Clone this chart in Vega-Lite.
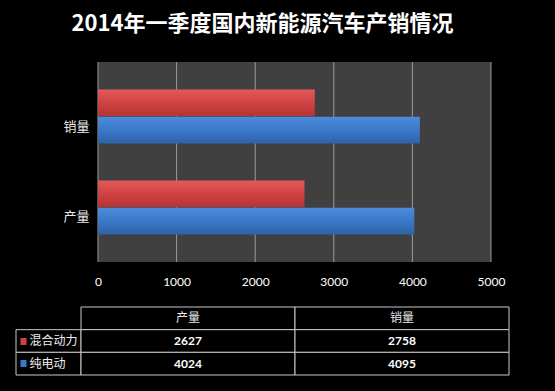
{
  "$schema": "https://vega.github.io/schema/vega-lite/v6.json",
  "background": "black",
  "padding": {"left": 15, "right": 47, "top": 12, "bottom": 18},
  "title": {
    "text": "2014年一季度国内新能源汽车产销情况",
    "color": "white",
    "fontSize": 22,
    "font": "Noto Sans CJK SC",
    "fontWeight": "bold",
    "anchor": "middle",
    "offset": 26
  },
  "config": {"view": {"stroke": null}},
  "datasets": {
    "sales": [
      {"category": "产量", "series": "混合动力", "value": 2627},
      {"category": "销量", "series": "混合动力", "value": 2758},
      {"category": "产量", "series": "纯电动", "value": 4024},
      {"category": "销量", "series": "纯电动", "value": 4095}
    ]
  },
  "spacing": 45,
  "bounds": "flush",
  "resolve": {"scale": {"x": "independent", "y": "independent"}},
  "vconcat": [
    {
      "width": 493,
      "height": 200,
      "data": {"name": "sales"},
      "encoding": {
        "x": {
          "type": "quantitative",
          "scale": {"domain": [-1043, 5229], "nice": false, "zero": false},
          "axis": {
            "values": [0, 1000, 2000, 3000, 4000, 5000],
            "format": "d",
            "grid": false,
            "domain": false,
            "ticks": false,
            "labelColor": "white",
            "labelFontSize": 12,
            "labelFont": "Lato",
            "labelPadding": 14,
            "title": null
          }
        }
      },
      "layer": [
        {
          "data": {"values": [{}]},
          "mark": {"type": "rect", "color": "#404040"},
          "encoding": {
            "x": {"datum": 0, "type": "quantitative"},
            "x2": {"datum": 5000}
          }
        },
        {
          "data": {"values": [{"g": 0}, {"g": 1000}, {"g": 2000}, {"g": 3000}, {"g": 4000}, {"g": 5000}]},
          "mark": {"type": "rule", "color": "#9a9a9a", "strokeWidth": 1},
          "encoding": {"x": {"field": "g", "type": "quantitative"}}
        },
        {
          "transform": [{"filter": "datum.series === '混合动力'"}],
          "mark": {
            "type": "bar",
            "color": {
              "gradient": "linear", "x1": 0, "y1": 0, "x2": 0, "y2": 1,
              "stops": [
                {"offset": 0, "color": "#e35a5a"},
                {"offset": 0.5, "color": "#d04242"},
                {"offset": 1, "color": "#b43434"}
              ]
            }
          },
          "encoding": {
            "x": {"field": "value", "type": "quantitative"},
            "y": {
              "field": "category", "type": "nominal",
              "scale": {"domain": ["销量", "产量"], "paddingInner": 0.407, "paddingOuter": 0.3025},
              "axis": {
                "offset": -80, "labelPadding": 7, "domain": false, "ticks": false,
                "labelColor": "#e8e8e8", "labelFontSize": 13, "labelFont": "Noto Sans CJK SC",
                "labelOffset": 10, "title": null
              }
            },
            "yOffset": {
              "field": "series", "type": "nominal",
              "scale": {"domain": ["混合动力", "纯电动"], "paddingInner": 0.02}
            }
          }
        },
        {
          "transform": [{"filter": "datum.series === '纯电动'"}],
          "mark": {
            "type": "bar",
            "color": {
              "gradient": "linear", "x1": 0, "y1": 0, "x2": 0, "y2": 1,
              "stops": [
                {"offset": 0, "color": "#4b8ddb"},
                {"offset": 0.5, "color": "#3b78c8"},
                {"offset": 1, "color": "#2f62a8"}
              ]
            }
          },
          "encoding": {
            "x": {"field": "value", "type": "quantitative"},
            "y": {"field": "category", "type": "nominal"},
            "yOffset": {"field": "series", "type": "nominal"}
          }
        }
      ]
    },
    {
      "spacing": 0,
      "bounds": "flush",
      "resolve": {"scale": {"x": "independent", "y": "independent"}},
      "hconcat": [
        {
          "width": 65,
          "height": 68,
          "data": {"name": "sales"},
          "transform": [{"filter": "datum.category === '产量'"}],
          "mark": {"type": "bar", "fill": "black", "stroke": "#c8c8c8", "strokeWidth": 1},
          "encoding": {
            "y": {
              "field": "series", "type": "nominal",
              "scale": {"domain": ["header", "混合动力", "纯电动"], "paddingInner": 0, "paddingOuter": 0},
              "axis": {
                "offset": -10,
                "zindex": 1,
                "domain": false,
                "tickSize": 6,
                "tickWidth": 7,
                "tickColor": {"condition": {"test": "datum.value === '混合动力'", "value": "#d04242"}, "value": "#3b78c8"},
                "labelAlign": "left",
                "labelPadding": -9,
                "labelColor": "#f0f0f0",
                "labelFontSize": 12,
                "labelFont": "Noto Sans CJK SC",
                "values": ["混合动力", "纯电动"],
                "title": null
              }
            }
          }
        },
        {
          "width": 428,
          "height": 68,
          "layer": [
            {
              "data": {"values": [{"category": "产量"}, {"category": "销量"}]},
              "mark": {"type": "bar", "fill": "black", "stroke": "#c8c8c8", "strokeWidth": 1},
              "encoding": {
                "x": {
                  "field": "category", "type": "nominal",
                  "scale": {"domain": ["产量", "销量"], "paddingInner": 0, "paddingOuter": 0},
                  "axis": null
                },
                "y": {
                  "datum": "header", "type": "nominal",
                  "scale": {"domain": ["header", "混合动力", "纯电动"], "paddingInner": 0, "paddingOuter": 0},
                  "axis": null
                }
              }
            },
            {
              "data": {"values": [{"category": "产量"}, {"category": "销量"}]},
              "mark": {"type": "text", "color": "#e8e8e8", "fontSize": 12, "font": "Noto Sans CJK SC"},
              "encoding": {
                "x": {"field": "category", "type": "nominal"},
                "y": {"datum": "header", "type": "nominal"},
                "text": {"field": "category"}
              }
            },
            {
              "data": {"name": "sales"},
              "mark": {"type": "bar", "fill": "black", "stroke": "#c8c8c8", "strokeWidth": 1},
              "encoding": {
                "x": {"field": "category", "type": "nominal"},
                "y": {"field": "series", "type": "nominal"}
              }
            },
            {
              "data": {"name": "sales"},
              "mark": {"type": "text", "color": "white", "fontSize": 12, "font": "Lato", "fontWeight": "bold"},
              "encoding": {
                "x": {"field": "category", "type": "nominal"},
                "y": {"field": "series", "type": "nominal"},
                "text": {"field": "value"}
              }
            }
          ]
        }
      ]
    }
  ]
}
